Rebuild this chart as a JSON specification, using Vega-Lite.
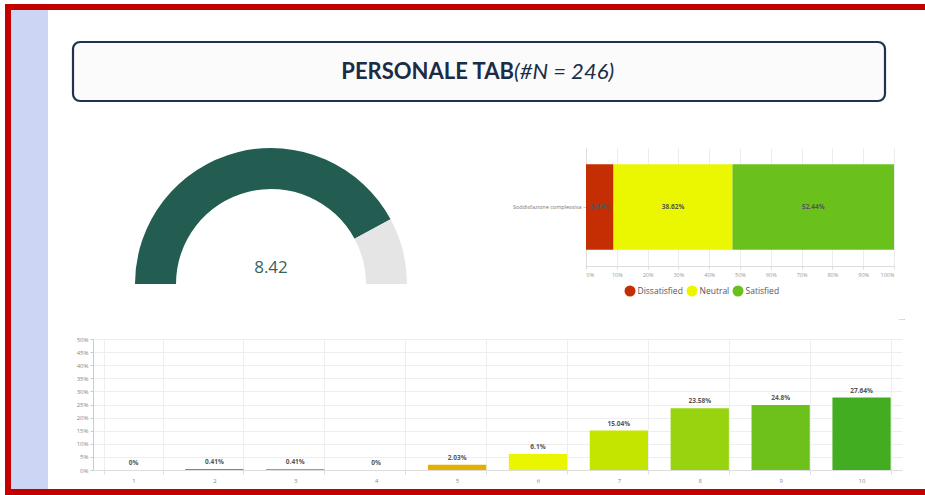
{
  "$schema": "https://vega.github.io/schema/vega-lite/v6.json",
  "background": "white",
  "padding": {"left": 5, "top": 4, "right": 0, "bottom": 0},
  "config": {"view": {"stroke": null}, "font": "Open Sans"},
  "spacing": 0,
  "resolve": {"scale": {"color": "independent"}, "legend": {"color": "independent"}},
  "vconcat": [
    {"width": 920, "height": 6, "view": {"fill": "#c30000"}, "data": {"values": []}, "mark": "point"},
    {
      "spacing": 0,
      "resolve": {"scale": {"color": "independent"}, "legend": {"color": "independent"}},
      "hconcat": [
        {"width": 6, "height": 479, "view": {"fill": "#c30000"}, "data": {"values": []}, "mark": "point"},
        {"width": 37, "height": 479, "view": {"fill": "#ccd5f3"}, "data": {"values": []}, "mark": "point"},
        {
          "spacing": 0,
          "resolve": {"scale": {"color": "independent"}, "legend": {"color": "independent"}},
          "vconcat": [
            {"width": 1, "height": 30, "data": {"values": []}, "mark": "point"},
            {
              "spacing": 0,
              "bounds": "flush",
              "hconcat": [
                {"width": 25, "height": 106, "data": {"values": []}, "mark": "point"},
                {
                  "width": 812,
                  "height": 59,
                  "view": {"fill": "#fbfbfc", "stroke": "#1f3350", "strokeWidth": 2.2, "cornerRadius": 7},
                  "data": {"values": [{"a": "PERSONALE TAB", "b": "(#N = 246)"}]},
                  "layer": [
                    {"mark": {"type": "text", "font": "Lato", "fontSize": 22, "fontWeight": "bold", "align": "right", "baseline": "middle", "dx": 35, "color": "#1b2c47"},
                     "encoding": {"text": {"field": "a"}}},
                    {"mark": {"type": "text", "font": "Lato", "fontSize": 22, "fontStyle": "italic", "align": "left", "baseline": "middle", "dx": 35, "color": "#1b2c47"},
                     "encoding": {"text": {"field": "b"}}}
                  ]
                }
              ]
            },
            {
              "spacing": 0,
              "bounds": "flush",
              "resolve": {"scale": {"color": "independent"}, "legend": {"color": "independent"}},
              "hconcat": [
                {
                  "width": 446,
                  "height": 136,
                  "encoding": {"y": {"datum": 0, "type": "quantitative", "scale": {"domain": [0, 1]}, "axis": null}},
                  "layer": [
                    {
                      "data": {"values": [{"k": "score", "v": 8.42, "o": 1}, {"k": "rest", "v": 1.58, "o": 2}]},
                      "mark": {"type": "arc", "outerRadius": 136, "innerRadius": 95},
                      "encoding": {
                        "theta": {"field": "v", "type": "quantitative", "stack": true, "scale": {"range": [-1.5708, 1.5708]}},
                        "color": {"field": "k", "type": "nominal", "scale": {"domain": ["score", "rest"], "range": ["#235c50", "#e5e5e5"]}, "legend": null},
                        "order": {"field": "o"}
                      }
                    },
                    {
                      "data": {"values": [{"t": "8.42"}]},
                      "mark": {"type": "text", "fontSize": 17, "color": "#3b6459", "dy": -16, "baseline": "middle"},
                      "encoding": {"text": {"field": "t"}}
                    },
                    {
                      "data": {"values": [{"t": "..."}]},
                      "mark": {"type": "text", "fontSize": 8, "color": "#999", "dx": 631, "dy": 34, "baseline": "middle"},
                      "encoding": {"text": {"field": "t"}}
                    }
                  ]
                },
                {"width": 92, "height": 188, "data": {"values": []}, "mark": "point"},
                {
                  "width": 308,
                  "height": 118,
                  "data": {"values": [
                    {"cat": "Soddisfazione complessiva", "group": "Dissatisfied", "pct": 8.94, "label": "8.94%", "o": 1},
                    {"cat": "Soddisfazione complessiva", "group": "Neutral", "pct": 38.62, "label": "38.62%", "o": 2},
                    {"cat": "Soddisfazione complessiva", "group": "Satisfied", "pct": 52.44, "label": "52.44%", "o": 3}
                  ]},
                  "encoding": {
                    "y": {"field": "cat", "type": "nominal", "scale": {"paddingInner": 0.16, "paddingOuter": 0.16},
                          "axis": {"title": null, "labelFontSize": 5.5, "labelColor": "#777", "domainColor": "#dddddd", "tickColor": "#cccccc", "tickSize": 3, "labelPadding": 2}},
                    "x": {"field": "s0", "type": "quantitative", "scale": {"domain": [0, 100]},
                          "axis": {"values": [0, 10, 20, 30, 40, 50, 60, 70, 80, 90, 100], "labelExpr": "datum.value + '%'", "labelOverlap": false, "title": null, "grid": true, "gridColor": "#ececec", "domainColor": "#dddddd", "tickColor": "#dddddd", "tickSize": 3, "labelFontSize": 5.5, "labelColor": "#999", "labelPadding": 3}}
                  },
                  "layer": [
                    {
                      "transform": [{"stack": "pct", "groupby": ["cat"], "sort": [{"field": "o", "order": "ascending"}], "as": ["s0", "s1"]}],
                      "mark": {"type": "bar"},
                      "encoding": {
                        "x2": {"field": "s1"},
                        "color": {"field": "group", "type": "nominal",
                                  "scale": {"domain": ["Dissatisfied", "Neutral", "Satisfied"], "range": ["#c52e02", "#ebf700", "#6bc11b"]},
                                  "legend": {"orient": "none", "legendX": 38.5, "legendY": 137.5, "direction": "horizontal", "title": null, "symbolType": "circle", "symbolSize": 121, "symbolStrokeWidth": 0, "labelFontSize": 8.5, "labelColor": "#555", "columnPadding": 3, "labelOffset": 2}}
                      }
                    },
                    {
                      "transform": [
                        {"stack": "pct", "groupby": ["cat"], "sort": [{"field": "o", "order": "ascending"}], "as": ["start", "end"]},
                        {"fold": ["start", "end"], "as": ["edge", "pos"]},
                        {"aggregate": [{"op": "mean", "field": "pos", "as": "s0"}], "groupby": ["cat", "group", "label"]}
                      ],
                      "mark": {"type": "text", "fontSize": 6.5, "fontWeight": "bold", "color": "#555"},
                      "encoding": {"text": {"field": "label"}}
                    }
                  ]
                }
              ]
            },
            {
              "spacing": 0,
              "bounds": "flush",
              "hconcat": [
                {"width": 45, "height": 1, "data": {"values": []}, "mark": "point"},
                {
                  "width": 809,
                  "height": 131,
                  "data": {"values": [
                    {"score": "1", "pct": 0, "label": "0%"},
                    {"score": "2", "pct": 0.41, "label": "0.41%"},
                    {"score": "3", "pct": 0.41, "label": "0.41%"},
                    {"score": "4", "pct": 0, "label": "0%"},
                    {"score": "5", "pct": 2.03, "label": "2.03%"},
                    {"score": "6", "pct": 6.1, "label": "6.1%"},
                    {"score": "7", "pct": 15.04, "label": "15.04%"},
                    {"score": "8", "pct": 23.58, "label": "23.58%"},
                    {"score": "9", "pct": 24.8, "label": "24.8%"},
                    {"score": "10", "pct": 27.64, "label": "27.64%"}
                  ]},
                  "encoding": {
                    "x": {"field": "score", "type": "ordinal", "sort": null, "scale": {"paddingInner": 0.28, "paddingOuter": 0.14},
                          "axis": {"title": null, "labelAngle": 0, "tickBand": "extent", "grid": true, "gridColor": "#eeeeee", "domainColor": "#dddddd", "tickColor": "#dddddd", "tickSize": 4, "labelFontSize": 6, "labelColor": "#888", "labelPadding": 3}},
                    "y": {"field": "pct", "type": "quantitative", "scale": {"domain": [0, 50]},
                          "axis": {"values": [0, 5, 10, 15, 20, 25, 30, 35, 40, 45, 50], "labelExpr": "datum.value + '%'", "title": null, "gridColor": "#eeeeee", "domainColor": "#cccccc", "tickColor": "#cccccc", "tickSize": 3, "labelFontSize": 6, "labelColor": "#888", "labelPadding": 2}}
                  },
                  "layer": [
                    {
                      "mark": {"type": "bar"},
                      "encoding": {
                        "color": {"field": "score", "type": "ordinal", "sort": null,
                                  "scale": {"domain": ["1", "2", "3", "4", "5", "6", "7", "8", "9", "10"],
                                            "range": ["#c52e02", "#d6674a", "#e8844f", "#e6a040", "#e3b000", "#eaf500", "#c4e500", "#98d30f", "#6ec01b", "#43ad22"]},
                                  "legend": null}
                      }
                    },
                    {
                      "mark": {"type": "text", "fontSize": 6.5, "fontWeight": "bold", "color": "#555", "baseline": "bottom", "dy": -4},
                      "encoding": {"text": {"field": "label"}}
                    }
                  ]
                }
              ]
            }
          ]
        }
      ]
    },
    {"width": 920, "height": 6, "view": {"fill": "#c30000"}, "data": {"values": []}, "mark": "point"}
  ]
}
